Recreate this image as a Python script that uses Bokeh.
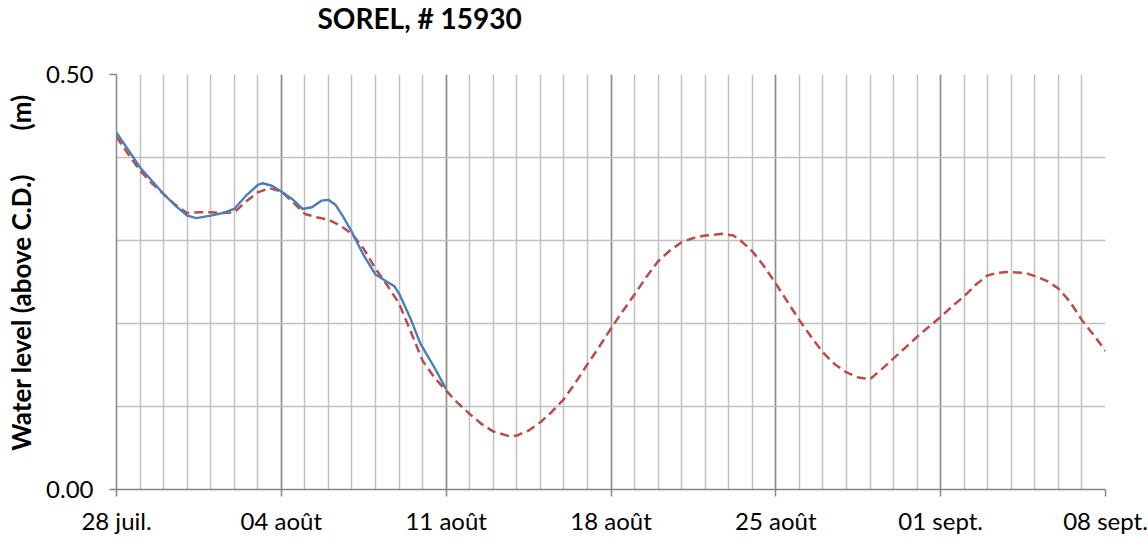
from bokeh.plotting import figure
from bokeh.models import FixedTicker, Range1d
from bokeh.embed import file_html
from bokeh.resources import INLINE

# ---- data (days after 28 July, water level in m above C.D.) ----
observed_days = [0, 0.5, 1, 1.5, 2, 2.5, 3, 3.4, 4, 4.5, 5, 5.5, 6, 6.2, 6.6, 7, 7.5, 7.9,
                 8.3, 8.7, 9, 9.3, 9.6, 10, 10.5, 11, 11.5, 11.8, 12, 12.5, 12.9, 13.5, 14]
observed_level = [0.430, 0.409, 0.388, 0.372, 0.356, 0.342, 0.330, 0.327, 0.330, 0.333, 0.338,
                  0.354, 0.367, 0.369, 0.366, 0.359, 0.349, 0.338, 0.340, 0.348, 0.349, 0.343,
                  0.330, 0.310, 0.282, 0.259, 0.250, 0.245, 0.236, 0.205, 0.176, 0.147, 0.121]

predicted_days = [0, 0.5, 1, 1.5, 2, 2.5, 3, 3.5, 4, 4.5, 5, 5.5, 6, 6.5, 7, 7.5, 8, 8.5, 9,
                  9.5, 10, 10.5, 11, 11.5, 12, 12.5, 13, 13.5, 14, 14.5, 15, 15.5, 16, 16.7,
                  17, 17.5, 18, 18.5, 19, 19.5, 20, 20.5, 21, 21.5, 22, 22.5, 23, 23.5, 24,
                  24.5, 25, 25.7, 26.2, 26.5, 27, 27.5, 28, 28.5, 29, 29.5, 30, 30.5, 31, 31.5,
                  32, 32.5, 33, 33.5, 34, 34.5, 35, 35.5, 36, 36.5, 37, 37.4, 37.8, 38.6, 39.2,
                  39.6, 40, 40.5, 41, 41.5, 42]
predicted_level = [0.425, 0.404, 0.384, 0.369, 0.356, 0.343, 0.333, 0.334, 0.334, 0.333, 0.334,
                   0.347, 0.358, 0.363, 0.359, 0.346, 0.332, 0.328, 0.325, 0.318, 0.308, 0.290,
                   0.266, 0.246, 0.224, 0.190, 0.155, 0.135, 0.119, 0.104, 0.091, 0.079, 0.070,
                   0.064, 0.065, 0.071, 0.081, 0.094, 0.109, 0.129, 0.151, 0.172, 0.194, 0.215,
                   0.235, 0.256, 0.275, 0.288, 0.298, 0.303, 0.306, 0.308, 0.306, 0.300, 0.287,
                   0.269, 0.248, 0.226, 0.204, 0.184, 0.165, 0.151, 0.141, 0.135, 0.133, 0.145,
                   0.158, 0.171, 0.184, 0.196, 0.208, 0.221, 0.233, 0.247, 0.258, 0.261, 0.262,
                   0.261, 0.255, 0.250, 0.242, 0.226, 0.204, 0.186, 0.167]

week_ticks = [0, 7, 14, 21, 28, 35, 42]
week_labels = ["28 juil.", "04 août", "11 août", "18 août", "25 août", "01 sept.", "08 sept."]
day_ticks = list(range(0, 43))
y_ticks = [0.0, 0.5]
y_labels = ["0.00", "0.50"]
y_grid = [0.0, 0.1, 0.2, 0.3, 0.4, 0.5]

title_text = "SOREL, # 15930"
ylabel_text = "\u00a0" * 3 + "Water level (above C.D.)" + "\u00a0" * 7 + "(m)"

FONT = "Lato"

p = figure(width=1148, height=541, output_backend="svg", toolbar_location=None,
           x_range=Range1d(0, 42), y_range=Range1d(0, 0.5),
           min_border_left=116, min_border_right=43, min_border_top=74, min_border_bottom=52)
p.outline_line_color = None
p.background_fill_color = "white"
p.border_fill_color = "white"

# title (a blank second line lifts it away from the plot area)
p.title.text = title_text + "\n\u00a0"
p.title.align = "left"
p.title.offset = 201
p.title.standoff = 1
p.title.vertical_align = "top"
p.title.text_line_height = 1.1
p.title.text_font = FONT
p.title.text_font_style = "bold"
p.title.text_font_size = "28px"
p.title.text_color = "black"

# grids
p.xgrid.ticker = FixedTicker(ticks=week_ticks, minor_ticks=day_ticks)
p.xgrid.grid_line_color = "#8c8c8c"
p.xgrid.grid_line_width = 1.5
p.xgrid.minor_grid_line_color = "#c0c0c0"
p.xgrid.minor_grid_line_width = 1.5
p.ygrid.ticker = FixedTicker(ticks=y_grid)
p.ygrid.grid_line_color = "#c0c0c0"
p.ygrid.grid_line_width = 1.5

# axes
for ax in (p.xaxis[0], p.yaxis[0]):
    ax.axis_line_color = "#868686"
    ax.axis_line_width = 1.5
    ax.major_tick_line_color = "#868686"
    ax.major_tick_line_width = 1.5
    ax.major_tick_in = 0
    ax.major_tick_out = 7
    ax.minor_tick_line_color = None
    ax.major_label_text_font = FONT
    ax.major_label_text_font_size = "24px"
    ax.major_label_text_color = "black"

p.xaxis.ticker = FixedTicker(ticks=week_ticks)
p.xaxis.major_label_overrides = {t: l for t, l in zip(week_ticks, week_labels)}
p.xaxis.major_label_standoff = 9
p.yaxis.ticker = FixedTicker(ticks=y_ticks)
p.yaxis.major_label_overrides = {t: l for t, l in zip(y_ticks, y_labels)}
p.yaxis.major_label_standoff = 16
p.yaxis.axis_label = ylabel_text
p.yaxis.axis_label_text_font = FONT
p.yaxis.axis_label_text_font_style = "bold"
p.yaxis.axis_label_text_font_size = "26px"
p.yaxis.axis_label_text_color = "black"
p.yaxis.axis_label_standoff = 6

# series
p.line(predicted_days, predicted_level, line_color="#BE4B48", line_width=2.5, line_dash="9 5")
p.line(observed_days, observed_level, line_color="#4A7EBB", line_width=2.4)

open("out.html", "w").write(file_html(p, INLINE))
